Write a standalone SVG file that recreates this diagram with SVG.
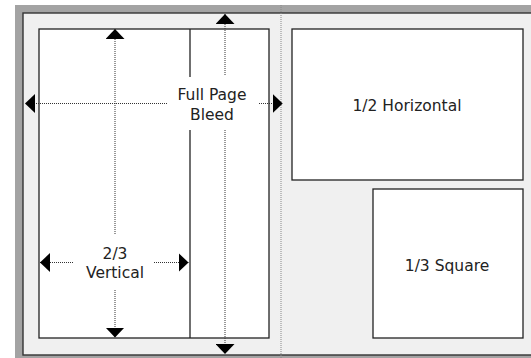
<svg xmlns="http://www.w3.org/2000/svg" width="531" height="358" viewBox="0 0 531 358">
<style>
.lbl{font-family:"DejaVu Sans","Liberation Sans",sans-serif;font-size:15.5px;fill:#222;text-anchor:middle}
.box{fill:#fff;stroke:#222;stroke-width:1.3}
.dot{fill:none;stroke:#333;stroke-width:1;stroke-dasharray:1 1}
</style>
<defs>
<marker id="tri" viewBox="0 0 10 19" refX="10" refY="9.5" markerWidth="10" markerHeight="19" markerUnits="userSpaceOnUse" orient="auto">
<path d="M0,0 L10,9.5 L0,19 Z" fill="#000"/>
</marker>
</defs>
<rect width="531" height="358" fill="#fff"/>
<g id="spread">
<rect x="15" y="5" width="530" height="360" fill="#a3a3a3"/>
<rect x="23" y="13" width="530" height="342" fill="#f0f0f0" stroke="#333" stroke-width="1.4"/>
<line x1="281" y1="5" x2="281" y2="358" stroke="#888" stroke-width="1" stroke-dasharray="1 1"/>
</g>
<g id="full-page">
<rect class="box" x="39" y="29" width="230" height="309"/>
</g>
<g id="two-thirds-vertical">
<line x1="190" y1="29" x2="190" y2="338" stroke="#222" stroke-width="1.3"/>
</g>
<g id="half-horizontal">
<rect class="box" x="292" y="29" width="231" height="151"/>
<text class="lbl" x="407" y="111">1/2 Horizontal</text>
</g>
<g id="third-square">
<rect class="box" x="373" y="189" width="150" height="149"/>
<text class="lbl" x="447" y="270.5">1/3 Square</text>
</g>
<g id="connectors">
<line class="dot" x1="225" y1="75" x2="225" y2="14" marker-end="url(#tri)"/>
<line class="dot" x1="225" y1="130" x2="225" y2="354" marker-end="url(#tri)"/>
<line class="dot" x1="167" y1="103.5" x2="25" y2="103.5" marker-end="url(#tri)"/>
<line class="dot" x1="259" y1="103.5" x2="282.7" y2="103.5" marker-end="url(#tri)"/>
<line class="dot" x1="115" y1="234" x2="115" y2="29" marker-end="url(#tri)"/>
<line class="dot" x1="115" y1="290" x2="115" y2="337.5" marker-end="url(#tri)"/>
<line class="dot" x1="73" y1="262.5" x2="40" y2="262.5" marker-end="url(#tri)"/>
<line class="dot" x1="154" y1="262.5" x2="188.5" y2="262.5" marker-end="url(#tri)"/>
</g>
<g id="bleed-label">
<rect x="167" y="77" width="92" height="53" fill="#fff"/>
<text class="lbl" x="212" y="99.5">Full Page</text>
<text class="lbl" x="212" y="119.5">Bleed</text>
</g>
<g id="vertical-label">
<text class="lbl" x="115" y="258.5">2/3</text>
<text class="lbl" x="115" y="277.5">Vertical</text>
</g>
</svg>
